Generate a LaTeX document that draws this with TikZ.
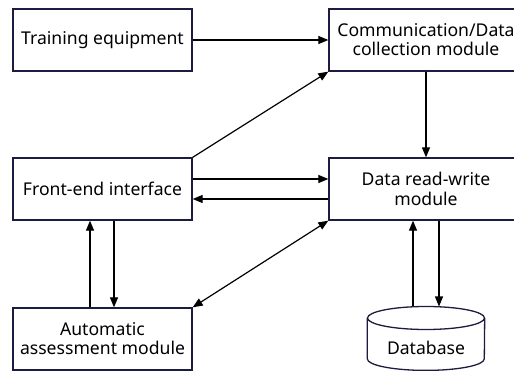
\documentclass[tikz,border=0pt]{standalone}
\usepackage{fontspec}
\setmainfont{Noto Sans}
\usetikzlibrary{arrows.meta}
\definecolor{edge}{RGB}{28,28,64}
\tikzset{
  module/.style={draw=edge, line width=1.3pt, fill=white, inner sep=2pt,
    align=center, minimum height=62pt,
    font=\fontsize{17.6}{19.2}\selectfont},
  narrowmod/.style={module, minimum width=179pt},
  widemod/.style={module, minimum width=194pt},
  link/.style={line width=1.2pt, -{Triangle[length=10pt,width=8pt]}},
  duallink/.style={line width=1.2pt, {Triangle[length=10pt,width=8pt]}-{Triangle[length=10pt,width=8pt]}}
}
\begin{document}
\begin{tikzpicture}[x=1pt, y=-1pt]
  \useasboundingbox (0,0) rectangle (514,371);
  \clip (0,0) rectangle (514,371);
  \fill[white] (0,0) rectangle (514,371);

  % modules
  \node[narrowmod] (train) at (102.5,40) {Training equipment};
  \node[widemod]   (comm)  at (426,40)   {Communication/Data\\collection module};
  \node[narrowmod] (fe)    at (102.5,189) {Front-end interface};
  \node[widemod]   (data)  at (426,189)  {Data read-write\\module};
  \node[narrowmod] (auto)  at (102.5,339) {Automatic\\assessment module};

  % database cylinder
  \node[inner sep=0pt, minimum width=117pt, text height=47.5pt, text depth=16pt,
        font=\fontsize{17.6}{19.2}\selectfont] (db) at (426,306.5) [anchor=north] {Database};
  \draw[edge, line width=1.3pt]
    ([yshift=-11.5pt]db.north west) -- ([yshift=11.5pt]db.south west)
    arc[start angle=180, end angle=360, x radius=58.5pt, y radius=11.5pt]
    -- ([yshift=-11.5pt]db.north east);
  \draw[edge, line width=1.3pt] ([yshift=-11.5pt]db.north)
    ellipse[x radius=58.5pt, y radius=11.5pt];

  % connectors
  \draw[link] (train.east) -- (comm.west);
  \draw[link] (fe.north east) -- (comm.south west);
  \draw[link] (comm.south) -- (data.north);
  \draw[link] ([yshift=10pt]fe.east) -- ([yshift=10pt]data.west);
  \draw[link] ([yshift=-10pt]data.west) -- ([yshift=-10pt]fe.east);
  \draw[link] ([xshift=-12.5pt]auto.north) -- ([xshift=-12.5pt]fe.south);
  \draw[link] ([xshift=11.5pt]fe.south) -- ([xshift=11.5pt]auto.north);
  \draw[duallink] (data.south west) -- (auto.north east);
  \draw[link] ([xshift=-13pt]db.north) -- ([xshift=-13pt]data.south);
  \draw[link] ([xshift=13pt]data.south) -- ([xshift=13pt]db.north);
\end{tikzpicture}
\end{document}
